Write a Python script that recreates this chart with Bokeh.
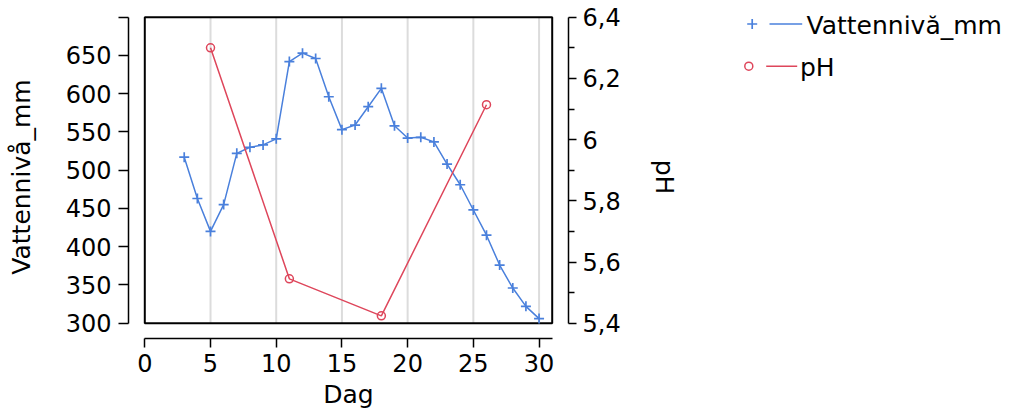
from bokeh.plotting import figure
from bokeh.layouts import row
from bokeh.models import Range1d, LinearAxis, FixedTicker
from bokeh.core.properties import value
from bokeh.embed import file_html
from bokeh.resources import INLINE

# ---- data ----
dag = [3, 4, 5, 6, 7, 8, 9, 10, 11, 12, 13, 14, 15, 16, 17, 18, 19, 20,
       21, 22, 23, 24, 25, 26, 27, 28, 29, 30]
vattenniva_mm = [517, 463, 420, 455, 522, 530, 533, 541, 642, 653, 646, 596,
                 553, 559, 583, 607, 558, 542, 543, 537, 508, 481, 448, 415,
                 376, 346, 322, 306]
ph_dag = [5, 11, 18, 26]
ph = [6.30, 5.545, 5.424, 6.114]

x_ticks = [0, 5, 10, 15, 20, 25, 30]
grid_x = [5, 10, 15, 20, 25, 30]
y_ticks = [300, 350, 400, 450, 500, 550, 600, 650, 700]
ph_ticks = [5.4, 5.6, 5.8, 6.0, 6.2, 6.4]
ph_minor = [5.5, 5.7, 5.9, 6.1, 6.3]
ph_labels = ["5,4", "5,6", "5,8", "6", "6,2", "6,4"]

X_MIN, X_MAX = 0, 31
Y_MIN, Y_MAX = 300, 700
PH_MIN, PH_MAX = 5.4, 6.4

BLUE = "#4A80DC"
RED = "#DE465B"
FONT = "DejaVu Sans"

p = figure(frame_width=440, frame_height=323,
           min_border_left=128, min_border_right=132,
           min_border_top=15, min_border_bottom=74,
           x_range=Range1d(-1.24, 32.24), y_range=Range1d(280, 702.2),
           output_backend="svg", toolbar_location=None,
           outline_line_color=None, title=None)
p.extra_y_ranges = {"ph": Range1d(5.35, 6.4056)}
p.xgrid.visible = False
p.ygrid.visible = False

# grid lines inside the inner box
p.segment(x0=grid_x, y0=[Y_MIN] * len(grid_x), x1=grid_x, y1=[Y_MAX] * len(grid_x),
          line_color="#DCDCDC", line_width=2)
# inner frame
p.quad(left=[X_MIN], right=[X_MAX], bottom=[Y_MIN], top=[Y_MAX],
       fill_color=None, line_color="black", line_width=2)

# series
p.line(dag, vattenniva_mm, line_color=BLUE, line_width=1.5)
p.scatter(dag, vattenniva_mm, marker="cross", size=10, line_color=BLUE, line_width=1.7)
p.line(ph_dag, ph, line_color=RED, line_width=1.5, y_range_name="ph")
p.scatter(ph_dag, ph, marker="circle", size=8, fill_color=None, line_color=RED,
          line_width=1.5, y_range_name="ph")

def style(ax):
    ax.axis_line_width = 1.5
    ax.major_tick_line_width = 1.5
    ax.minor_tick_line_width = 1.5
    ax.major_tick_in = 0
    ax.minor_tick_in = 0
    ax.major_label_text_font = FONT
    ax.major_label_text_font_size = "24px"
    ax.major_label_text_color = "black"
    ax.axis_label_text_font = FONT
    ax.axis_label_text_font_size = "25px"
    ax.axis_label_text_font_style = "normal"
    ax.axis_label_text_color = "black"

xa = p.xaxis[0]
style(xa)
xa.bounds = (X_MIN, X_MAX)
xa.ticker = FixedTicker(ticks=x_ticks, minor_ticks=[])
xa.major_tick_out = 9
xa.major_label_standoff = 6
xa.axis_label = "Dag"
xa.axis_label_standoff = 5

ya = p.yaxis[0]
style(ya)
ya.bounds = (Y_MIN, Y_MAX)
ya.ticker = FixedTicker(ticks=y_ticks, minor_ticks=[])
ya.major_label_overrides = {700: ""}
ya.major_tick_out = 10
ya.major_label_standoff = 7
ya.axis_label = "Vattennivå_mm"
ya.axis_label_standoff = 27

ra = LinearAxis(y_range_name="ph")
style(ra)
ra.bounds = (PH_MIN, PH_MAX)
ra.ticker = FixedTicker(ticks=ph_ticks, minor_ticks=ph_minor)
ra.major_label_overrides = {t: l for t, l in zip(ph_ticks, ph_labels)}
ra.major_tick_out = 8
ra.minor_tick_out = 6
ra.major_label_standoff = 6
ra.axis_label = "pH"
ra.axis_label_standoff = 26
p.add_layout(ra, "right")

# legend panel (frame aligned with main frame: page y 15..338)
leg = figure(frame_width=310, frame_height=323, min_border=0,
             min_border_top=15, min_border_bottom=74,
             x_range=Range1d(0, 310), y_range=Range1d(338, 15),
             output_backend="svg", toolbar_location=None,
             outline_line_color=None, title=None)
leg.axis.visible = False
leg.grid.visible = False
names = ["Vattennivå_mm", "pH"]
leg.scatter(x=[51.7], y=[23.5], marker="cross", size=10, line_color=BLUE, line_width=1.7)
leg.segment(x0=[69], y0=[23.5], x1=[101.7], y1=[23.5], line_color=BLUE, line_width=1.5)
leg.text(x=[106], y=[25], text=[names[0]], text_font=value(FONT), text_font_size="25px",
         text_baseline="middle", text_color="black")
leg.scatter(x=[48.3], y=[65.7], marker="circle", size=8, fill_color=None,
            line_color=RED, line_width=1.5)
leg.segment(x0=[65.7], y0=[65.7], x1=[96.7], y1=[65.7], line_color=RED, line_width=1.5)
leg.text(x=[99.5], y=[66.5], text=[names[1]], text_font=value(FONT), text_font_size="25px",
         text_baseline="middle", text_color="black")

layout = row(p, leg)
open("out.html", "w").write(file_html(layout, INLINE))
